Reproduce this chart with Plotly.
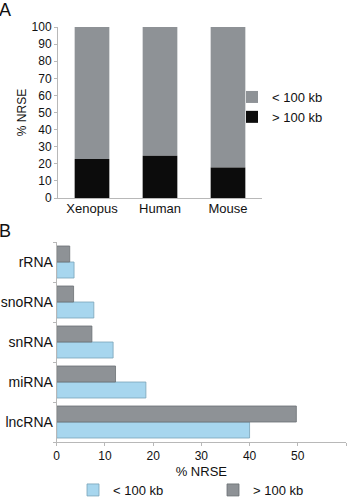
import plotly.graph_objects as go

# Panel A data
species = ["Xenopus", "Human", "Mouse"]
a_lt100 = [77.2, 75.3, 82.1]   # < 100 kb
a_gt100 = [22.8, 24.7, 17.9]   # > 100 kb
a_yticks = [0, 10, 20, 30, 40, 50, 60, 70, 80, 90, 100]

# Panel B data (bottom to top)
rna_types = ["lncRNA", "miRNA", "snRNA", "snoRNA", "rRNA"]
b_lt100 = [40.0, 18.5, 11.7, 7.7, 3.6]
b_gt100 = [49.7, 12.2, 7.3, 3.5, 2.7]
b_xticks = [0, 10, 20, 30, 40, 50, 60]

FONT = "Liberation Sans, Arial, sans-serif"
TXT = "#111111"
AX = "#b8b8b8"

W, H = 352, 500
def px_x(p): return p / W
def px_y(p): return 1 - p / H

fig = go.Figure()

# Panel A
fig.add_trace(go.Bar(x=species, y=a_lt100, base=a_gt100, name="< 100 kb",
                     marker=dict(color="#8e9296", line=dict(width=0)),
                     width=0.51, xaxis="x", yaxis="y", legend="legend"))
fig.add_trace(go.Bar(x=species, y=a_gt100, name="> 100 kb",
                     marker=dict(color="#0c0c0c", line=dict(width=0)),
                     width=0.51, xaxis="x", yaxis="y", legend="legend"))

# Panel B
fig.add_trace(go.Bar(y=rna_types, x=b_lt100, orientation="h", name="< 100 kb",
                     marker=dict(color="#a7d6ee", line=dict(color="#7aa3b8", width=0.8)),
                     width=0.4, offset=-0.4, xaxis="x2", yaxis="y2", legend="legend2"))
fig.add_trace(go.Bar(y=rna_types, x=b_gt100, orientation="h", name="> 100 kb",
                     marker=dict(color="#8e9296", line=dict(color="#6b7074", width=0.8)),
                     width=0.4, offset=0.0, xaxis="x2", yaxis="y2", legend="legend2"))

fig.update_layout(
    width=W, height=H, margin=dict(l=0, r=0, t=0, b=0, autoexpand=False),
    paper_bgcolor="white", plot_bgcolor="white",
    barmode="overlay",
    font=dict(family=FONT, color=TXT, size=12),
    xaxis=dict(domain=[px_x(58), px_x(262)], anchor="y",
               showline=True, linecolor=AX, linewidth=1, ticks="",
               tickfont=dict(size=13), ticklabelstandoff=-2,
               showgrid=False, zeroline=False, range=[-0.5, 2.5]),
    yaxis=dict(domain=[px_y(198), px_y(27)], anchor="x", range=[0, 100],
               tickvals=a_yticks, showline=True, linecolor=AX, linewidth=1,
               ticks="outside", ticklen=3, tickcolor=AX, showgrid=False, zeroline=False,
               tickfont=dict(size=12),
               title=dict(text="% NRSE", font=dict(size=12), standoff=2)),
    xaxis2=dict(domain=[px_x(56.7), px_x(346)], anchor="y2", range=[0, 60],
                tickvals=b_xticks, showline=True, linecolor=AX, linewidth=1,
                ticks="outside", ticklen=3, tickcolor=AX, showgrid=False, zeroline=False,
                tickfont=dict(size=12),
                title=dict(text="% NRSE", font=dict(size=13), standoff=4)),
    yaxis2=dict(domain=[px_y(442), px_y(242)], anchor="x2",
                categoryorder="array", categoryarray=rna_types,
                showline=True, linecolor=AX, linewidth=1,
                ticks="outside", ticklen=3, tickcolor=AX, tickson="boundaries",
                tickfont=dict(size=14), showgrid=False, zeroline=False),
    legend=dict(x=px_x(232), y=px_y(82), xanchor="left", yanchor="top",
                orientation="v", font=dict(size=13), bgcolor="rgba(0,0,0,0)",
                traceorder="normal", itemwidth=30, tracegroupgap=0),
    legend2=dict(x=px_x(73), y=px_y(475), xanchor="left", yanchor="top",
                 orientation="h", font=dict(size=13), bgcolor="rgba(0,0,0,0)",
                 entrywidth=95, entrywidthmode="pixels", itemwidth=30),
    annotations=[
        dict(text="A", x=px_x(-3), y=px_y(-2), xref="paper", yref="paper",
             xanchor="left", yanchor="top", showarrow=False, font=dict(size=18, color=TXT)),
        dict(text="B", x=px_x(-3), y=px_y(219), xref="paper", yref="paper",
             xanchor="left", yanchor="top", showarrow=False, font=dict(size=18, color=TXT)),
    ],
)

fig.write_html("out.html")
